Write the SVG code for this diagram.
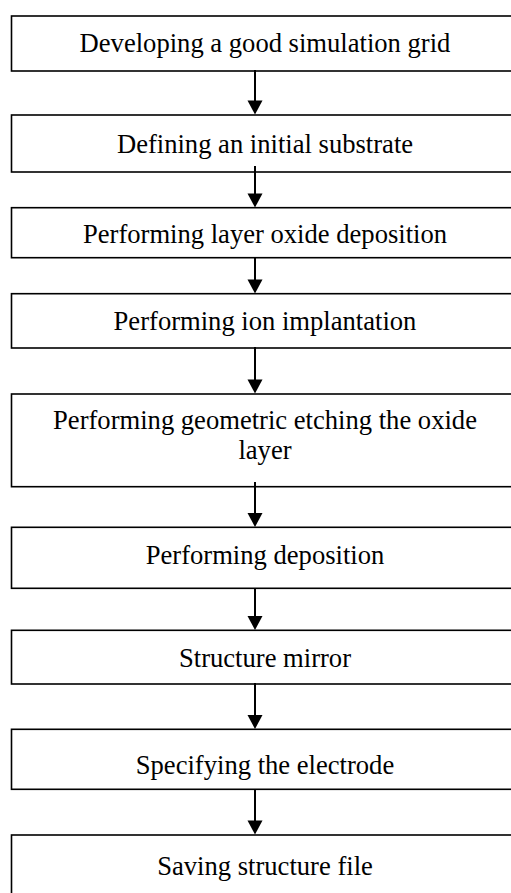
<svg xmlns="http://www.w3.org/2000/svg" width="511" height="893" viewBox="0 0 511 893">
<style>
.box{fill:#fff;stroke:#000;stroke-width:1.6}
.t{font-family:"Liberation Serif","Times New Roman",serif;font-size:26.6px;fill:#000;text-anchor:middle}
.c{stroke:#000;stroke-width:2;fill:none}
.h{fill:#000}
</style>
<rect width="511" height="893" fill="#fff"/>
<g id="n1"><rect class="box" x="11.5" y="16" width="508" height="55"/><text class="t" x="265" y="52">Developing a good simulation grid</text></g>
<g id="n2"><rect class="box" x="11.5" y="115" width="508" height="57"/><text class="t" x="265" y="153">Defining an initial substrate</text></g>
<g id="n3"><rect class="box" x="11.5" y="207.7" width="508" height="50"/><text class="t" x="265" y="243">Performing layer oxide deposition</text></g>
<g id="n4"><rect class="box" x="11.5" y="293.7" width="508" height="54.3"/><text class="t" x="265" y="330.3">Performing ion implantation</text></g>
<g id="n5"><rect class="box" x="11.5" y="394" width="508" height="92.7"/><text class="t" x="265" y="429.3">Performing geometric etching the oxide</text><text class="t" x="265" y="458.8">layer</text></g>
<g id="n6"><rect class="box" x="11.5" y="527.3" width="508" height="61"/><text class="t" x="265" y="563.6">Performing deposition</text></g>
<g id="n7"><rect class="box" x="11.5" y="630.3" width="508" height="53.7"/><text class="t" x="265" y="667">Structure mirror</text></g>
<g id="n8"><rect class="box" x="11.5" y="729.3" width="508" height="60"/><text class="t" x="265" y="773.6">Specifying the electrode</text></g>
<g id="n9"><rect class="box" x="11.5" y="835" width="508" height="70"/><text class="t" x="265" y="875.3">Saving structure file</text></g>
<g id="connectors">
<line class="c" x1="255" y1="70" x2="255" y2="102"/><polygon class="h" points="247.5,100.5 262.5,100.5 255,114.5"/>
<line class="c" x1="255" y1="166" x2="255" y2="195"/><polygon class="h" points="247.5,193.5 262.5,193.5 255,207.5"/>
<line class="c" x1="255" y1="257" x2="255" y2="281"/><polygon class="h" points="247.5,279.5 262.5,279.5 255,293.5"/>
<line class="c" x1="255" y1="347" x2="255" y2="381"/><polygon class="h" points="247.5,379.5 262.5,379.5 255,393.5"/>
<line class="c" x1="255" y1="482" x2="255" y2="514"/><polygon class="h" points="247.5,513 262.5,513 255,527"/>
<line class="c" x1="255" y1="588" x2="255" y2="617"/><polygon class="h" points="247.5,616 262.5,616 255,630"/>
<line class="c" x1="255" y1="683" x2="255" y2="716"/><polygon class="h" points="247.5,715 262.5,715 255,729"/>
<line class="c" x1="255" y1="789" x2="255" y2="822"/><polygon class="h" points="247.5,820.5 262.5,820.5 255,834.5"/>
</g>
</svg>
